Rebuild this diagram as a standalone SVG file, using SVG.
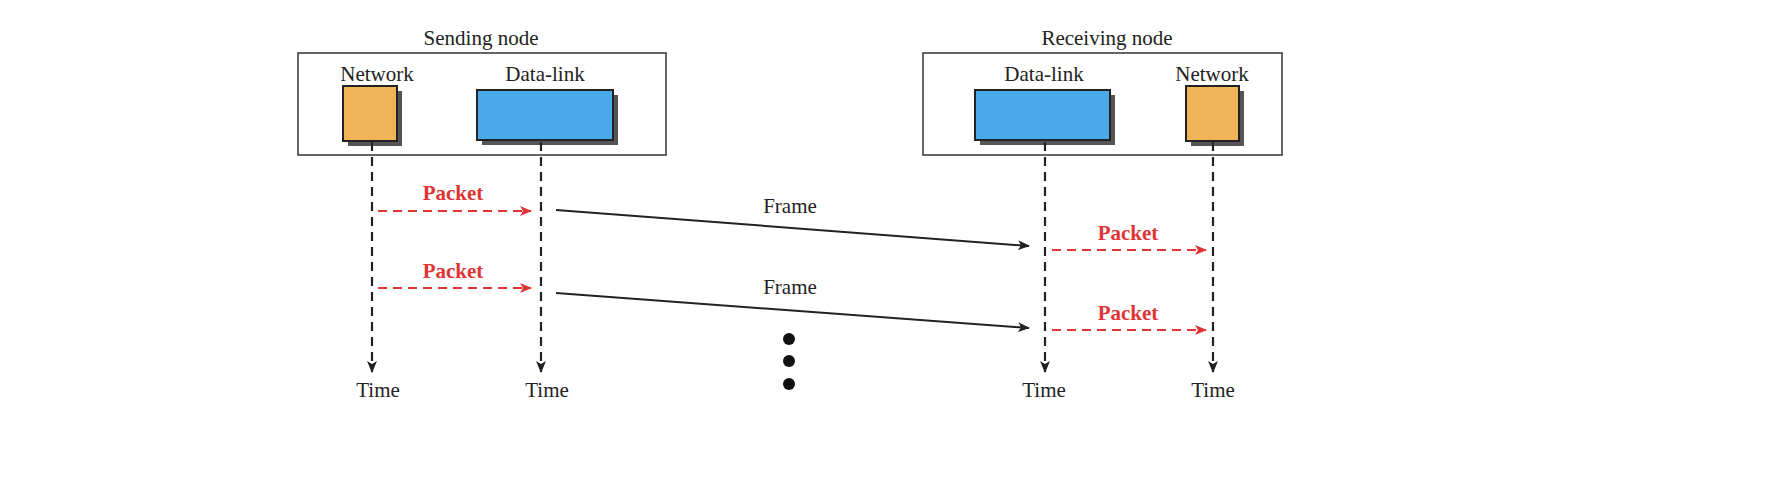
<svg xmlns="http://www.w3.org/2000/svg" width="1788" height="500" viewBox="0 0 1788 500">
<style>
text{font-family:"Liberation Serif","Times New Roman",serif;font-size:21px;fill:#222;text-anchor:middle}
.pk{fill:#e03535;font-weight:bold}
.frame{fill:none;stroke:#333;stroke-width:1.5}
.shadow{fill:#555}
.net{fill:#f0b357;stroke:#222;stroke-width:2}
.dl{fill:#4aa9e8;stroke:#222;stroke-width:2}
.life{stroke:#222;stroke-width:2.2;stroke-dasharray:9,6;fill:none}
.red{stroke:#e03535;stroke-width:2;stroke-dasharray:9,6;fill:none}
.blk{stroke:#222;stroke-width:2;fill:none}
</style>
<defs>
<marker id="ab" viewBox="0 0 12 10" refX="11" refY="5" markerWidth="12" markerHeight="10" markerUnits="userSpaceOnUse" orient="auto"><path d="M0,0 L12,5 L0,10 L3,5 Z" fill="#222"/></marker>
<marker id="ar" viewBox="0 0 12 10" refX="11" refY="5" markerWidth="12" markerHeight="10" markerUnits="userSpaceOnUse" orient="auto"><path d="M0,0 L12,5 L0,10 L3,5 Z" fill="#e03535"/></marker>
</defs>
<g id="sending">
<text x="481" y="45">Sending node</text>
<rect class="frame" x="298" y="53" width="368" height="102"/>
<text x="377" y="81">Network</text>
<text x="545" y="81">Data-link</text>
<rect class="shadow" x="348" y="91" width="54" height="55"/>
<rect class="net" x="343" y="86" width="54" height="55"/>
<rect class="shadow" x="482" y="95" width="136" height="50"/>
<rect class="dl" x="477" y="90" width="136" height="50"/>
</g>
<g id="receiving">
<text x="1107" y="45">Receiving node</text>
<rect class="frame" x="923" y="53" width="359" height="102"/>
<text x="1044" y="81">Data-link</text>
<text x="1212" y="81">Network</text>
<rect class="shadow" x="980" y="95" width="135" height="50"/>
<rect class="dl" x="975" y="90" width="135" height="50"/>
<rect class="shadow" x="1191" y="91" width="53" height="55"/>
<rect class="net" x="1186" y="86" width="53" height="55"/>
</g>
<g id="connectors">
<line class="life" x1="372" y1="142" x2="372" y2="372" marker-end="url(#ab)"/>
<line class="life" x1="541" y1="142" x2="541" y2="372" marker-end="url(#ab)"/>
<line class="life" x1="1045" y1="142" x2="1045" y2="372" marker-end="url(#ab)"/>
<line class="life" x1="1213" y1="142" x2="1213" y2="372" marker-end="url(#ab)"/>
<line class="red" x1="378" y1="211" x2="531" y2="211" marker-end="url(#ar)"/>
<line class="red" x1="378" y1="288" x2="531" y2="288" marker-end="url(#ar)"/>
<line class="red" x1="1052" y1="250" x2="1206" y2="250" marker-end="url(#ar)"/>
<line class="red" x1="1052" y1="330" x2="1206" y2="330" marker-end="url(#ar)"/>
<line class="blk" x1="556" y1="210" x2="1029" y2="246" marker-end="url(#ab)"/>
<line class="blk" x1="556" y1="293" x2="1029" y2="328" marker-end="url(#ab)"/>
</g>
<g id="labels">
<text class="pk" x="453" y="200">Packet</text>
<text class="pk" x="453" y="278">Packet</text>
<text class="pk" x="1128" y="240">Packet</text>
<text class="pk" x="1128" y="320">Packet</text>
<text x="790" y="213">Frame</text>
<text x="790" y="294">Frame</text>
<text x="378" y="397">Time</text>
<text x="547" y="397">Time</text>
<text x="1044" y="397">Time</text>
<text x="1213" y="397">Time</text>
</g>
<g id="dots" fill="#111">
<circle cx="789" cy="339" r="6"/>
<circle cx="789" cy="361" r="6"/>
<circle cx="789" cy="384" r="6"/>
</g>
</svg>
